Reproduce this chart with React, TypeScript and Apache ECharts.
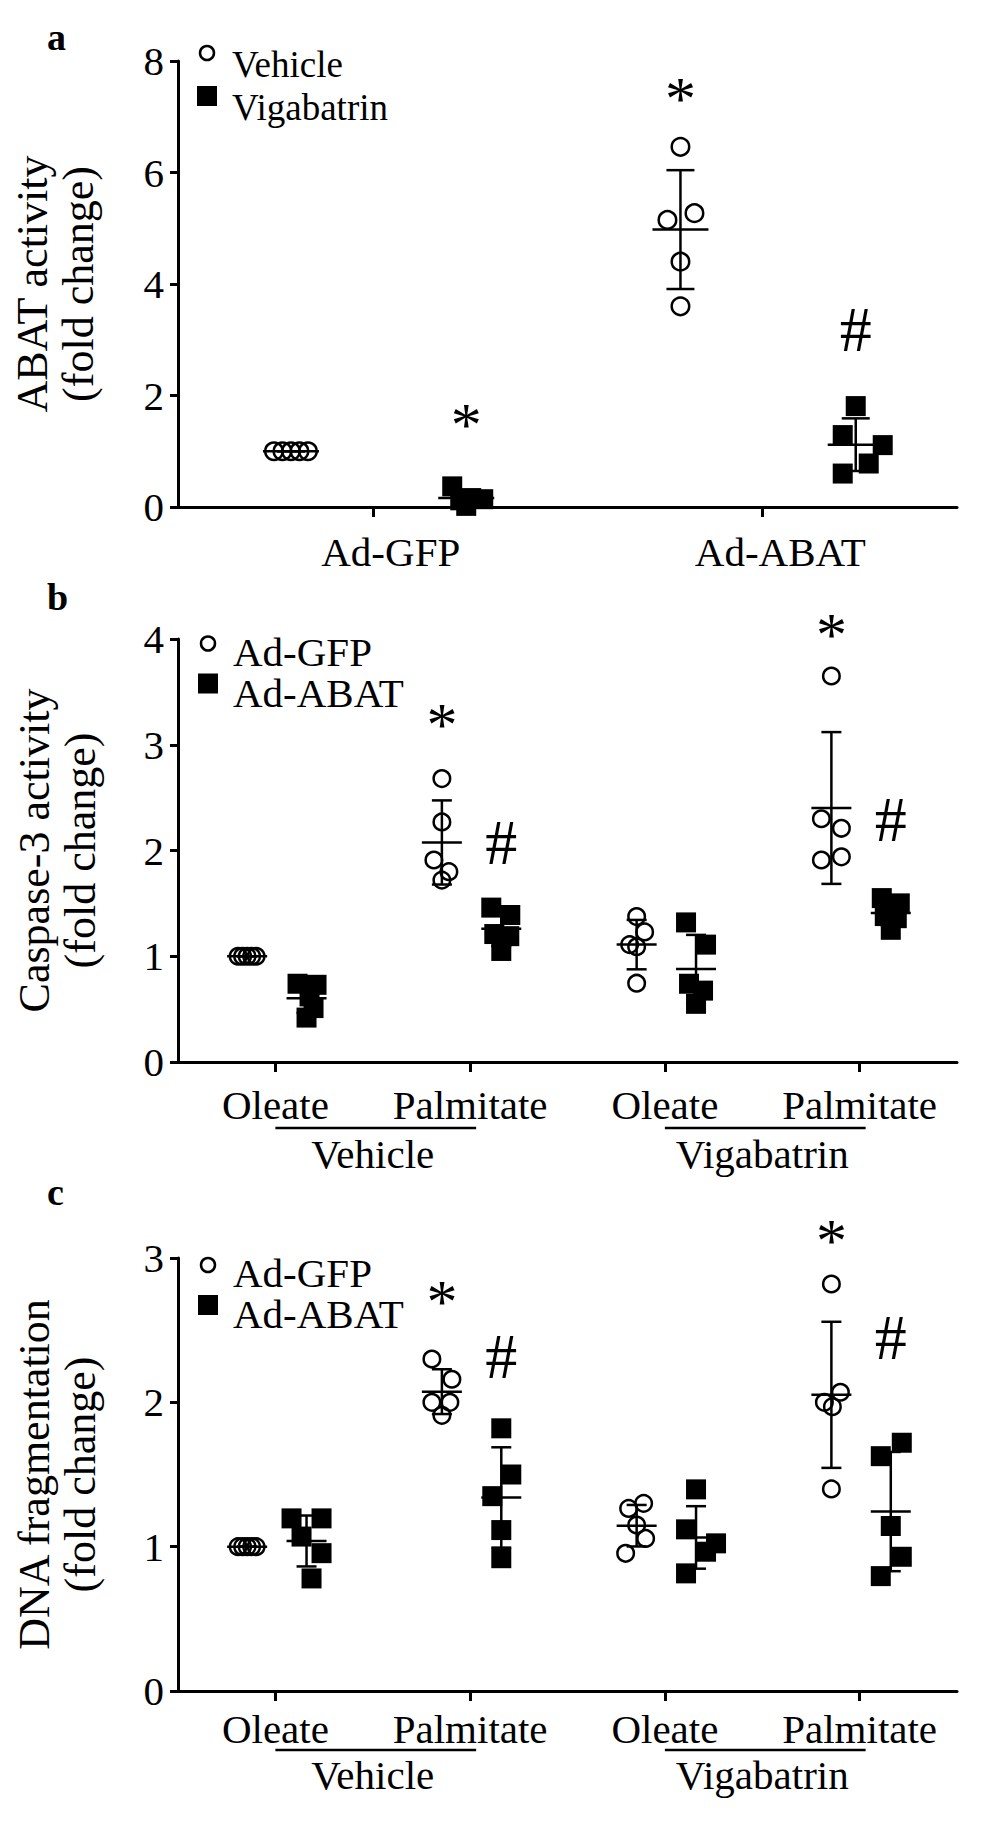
import React, { useEffect, useRef } from 'react';
import * as echarts from 'echarts';

const FONT = '"Liberation Serif", "Times New Roman", Times, serif';

// ---------------- Panel a : ABAT activity ----------------
const aCategories = ['Ad-GFP', 'Ad-ABAT'];
const aLegend = ['Vehicle', 'Vigabatrin'];
const aVehicle = [
  [1.0, 1.0, 1.0, 1.0, 1.0],
  [6.46, 5.27, 5.15, 4.4, 3.6],
];
const aVigabatrin = [
  [0.37, 0.16, 0.14, 0.12, 0.02],
  [1.81, 1.29, 1.11, 0.78, 0.6],
];
// [group index, set index (0 = circles, 1 = squares), y value, mark]
const aMarks: [number, number, number, string][] = [
  [0, 1, 1.71, '*'],
  [1, 0, 7.55, '*'],
  [1, 1, 3.18, '#'],
];

// ---------------- Panel b : Caspase-3 activity ----------------
const bCategories = ['Oleate', 'Palmitate', 'Oleate', 'Palmitate'];
const bTreatments = ['Vehicle', 'Vigabatrin'];
const bLegend = ['Ad-GFP', 'Ad-ABAT'];
const bAdGFP = [
  [1.0, 1.0, 1.0, 1.0, 1.0],
  [2.68, 2.27, 1.91, 1.8, 1.72],
  [1.375, 1.23, 1.11, 1.09, 0.745],
  [3.65, 2.3, 2.21, 1.94, 1.91],
];
const bAdABAT = [
  [0.74, 0.73, 0.62, 0.51, 0.42],
  [1.46, 1.39, 1.21, 1.19, 1.05],
  [1.32, 1.11, 0.74, 0.675, 0.55],
  [1.55, 1.5, 1.38, 1.36, 1.25],
];
const bMarks: [number, number, number, string][] = [
  [1, 0, 3.31, '*'],
  [1, 1, 2.08, '#'],
  [3, 0, 4.16, '*'],
  [3, 1, 2.29, '#'],
];

// ---------------- Panel c : DNA fragmentation ----------------
const cCategories = ['Oleate', 'Palmitate', 'Oleate', 'Palmitate'];
const cTreatments = ['Vehicle', 'Vigabatrin'];
const cLegend = ['Ad-GFP', 'Ad-ABAT'];
const cAdGFP = [
  [1.0, 1.0, 1.0, 1.0, 1.0],
  [2.3, 2.16, 2.0, 2.0, 1.91],
  [1.3, 1.265, 1.15, 1.057, 0.954],
  [2.82, 2.07, 2.0, 1.97, 1.4],
];
const cAdABAT = [
  [1.196, 1.196, 1.07, 0.955, 0.78],
  [1.82, 1.5, 1.35, 1.115, 0.92],
  [1.397, 1.12, 1.023, 0.965, 0.815],
  [1.72, 1.627, 1.143, 0.93, 0.796],
];
const cMarks: [number, number, number, string][] = [
  [1, 0, 2.79, '*'],
  [1, 1, 2.315, '#'],
  [3, 0, 3.21, '*'],
  [3, 1, 2.45, '#'],
];

// ---------------- presentation (horizontal jitter in px) ----------------
const aJitter = [
  [[-17, -8.5, 0, 8.5, 17], [0, 14, -13, 0, 0]],
  [[-14, 5, 17, -6, 0], [0, -13, 27, 13, -13]],
];
const bJitter = [
  [[-9, -4.5, 0, 4.5, 9], [0, 0, -8, 7, 0], [0, 8, -7, 0, 0], [0, -10, 10, 10, -10]],
  [[-9, 10, 3, 7, 0], [-10, 9, -7, 8, 0], [-10, 10, -7, 7, 0], [-9, 9, -6, 6, 0]],
];
const cJitter = [
  [[-9, -4.5, 0, 4.5, 9], [-10, 10, -10, 8, 0], [7, -8, 0, 9, -11], [0, 9, -7, 1, 0]],
  [[-15, 15, -5, 15, 5], [0, 10, -9, 0, 0], [0, -10, 20, 10, -10], [11, -10, 0, 11, -10]],
];

function stats(vals: number[]): [number, number] {
  const n = vals.length;
  const mean = vals.reduce((s, v) => s + v, 0) / n;
  const sd = Math.sqrt(vals.reduce((s, v) => s + (v - mean) * (v - mean), 0) / (n - 1));
  return [mean, sd];
}

type PanelCfg = {
  idx: number;
  ticks: number[];
  offsets: [number, number];
  sets: number[][][];
  jitter: number[][][];
  marks: [number, number, number, string][];
  circleSize: number;
  meanHalf: number;
  capHalf: number;
  names: string[];
};

function panelSeries(p: PanelCfg): any[] {
  const out: any[] = [];
  const black = '#000';
  p.sets.forEach((set, s) => {
    const data: any[] = [];
    set.forEach((vals, g) => {
      vals.forEach((v, i) => {
        data.push({ value: [p.ticks[g] + p.offsets[s], v], symbolOffset: [p.jitter[s][g][i], 0] });
      });
    });
    out.push({
      type: 'scatter',
      name: p.names[s],
      xAxisIndex: p.idx,
      yAxisIndex: p.idx,
      symbol: s === 0 ? 'circle' : 'rect',
      symbolSize: s === 0 ? p.circleSize : 20,
      itemStyle:
        s === 0
          ? { color: 'rgba(0,0,0,0)', borderColor: black, borderWidth: 2.5, opacity: 1 }
          : { color: black, borderWidth: 0, opacity: 1 },
      data,
      z: 2,
      silent: true,
    });
  });
  // mean +/- SD
  const barData: number[][] = [];
  p.sets.forEach((set, s) => {
    set.forEach((vals, g) => {
      const [m, sd] = stats(vals);
      barData.push([p.ticks[g] + p.offsets[s], m, sd]);
    });
  });
  out.push({
    type: 'custom',
    xAxisIndex: p.idx,
    yAxisIndex: p.idx,
    clip: false,
    z: 3,
    silent: true,
    encode: { x: 0, y: 1 },
    data: barData,
    renderItem: (_params: any, api: any) => {
      const x = api.value(0);
      const m = api.value(1);
      const sd = api.value(2);
      const pm = api.coord([x, m]);
      const pt = api.coord([x, m + sd]);
      const pb = api.coord([x, m - sd]);
      const style = { stroke: black, lineWidth: 2.5 };
      return {
        type: 'group',
        children: [
          { type: 'line', shape: { x1: pm[0] - p.meanHalf, y1: pm[1], x2: pm[0] + p.meanHalf, y2: pm[1] }, style },
          { type: 'line', shape: { x1: pt[0], y1: pt[1], x2: pb[0], y2: pb[1] }, style },
          { type: 'line', shape: { x1: pt[0] - p.capHalf, y1: pt[1], x2: pt[0] + p.capHalf, y2: pt[1] }, style },
          { type: 'line', shape: { x1: pb[0] - p.capHalf, y1: pb[1], x2: pb[0] + p.capHalf, y2: pb[1] }, style },
        ],
      };
    },
  });
  // significance marks
  out.push({
    type: 'custom',
    xAxisIndex: p.idx,
    yAxisIndex: p.idx,
    clip: false,
    z: 4,
    silent: true,
    encode: { x: 0, y: 1 },
    data: p.marks.map((mk) => [p.ticks[mk[0]] + p.offsets[mk[1]], mk[2], mk[3] === '*' ? 0 : 1]),
    renderItem: (_params: any, api: any) => {
      const pt = api.coord([api.value(0), api.value(1)]);
      const isStar = api.value(2) === 0;
      const fs = isStar ? 62 : 64;
      return {
        type: 'text',
        x: pt[0],
        y: pt[1] + (isStar ? fs * 0.2 : 0),
        style: {
          text: isStar ? '*' : '#',
          fill: black,
          fontSize: fs,
          fontFamily: FONT,
          align: 'center',
          verticalAlign: 'middle',
        },
      };
    },
  });
  return out;
}

function underlineSeries(idx: number, spans: number[][], dy: number): any {
  return {
    type: 'custom',
    xAxisIndex: idx,
    yAxisIndex: idx,
    clip: false,
    silent: true,
    encode: { x: [0, 1] },
    data: spans,
    renderItem: (_params: any, api: any) => {
      const p1 = api.coord([api.value(0), 0]);
      const p2 = api.coord([api.value(1), 0]);
      return {
        type: 'line',
        shape: { x1: p1[0], y1: p1[1] + dy, x2: p2[0] + 6, y2: p2[1] + dy },
        style: { stroke: '#000', lineWidth: 2.5 },
      };
    },
  };
}

const axisLineStyle = { color: '#000', width: 3 };

function yAxisCfg(idx: number, max: number, interval: number, name: string, nameGap: number) {
  return {
    gridIndex: idx,
    type: 'value',
    min: 0,
    max,
    interval,
    axisLine: { show: true, lineStyle: axisLineStyle },
    axisTick: { show: true, length: 8, lineStyle: { color: '#000', width: 3 } },
    axisLabel: { color: '#000', fontSize: 41, fontFamily: FONT, margin: 14 },
    splitLine: { show: false },
    name,
    nameLocation: 'middle',
    nameRotate: 90,
    nameGap,
    nameTextStyle: { color: '#000', fontSize: 44, fontFamily: FONT, lineHeight: 46 },
  };
}

function xAxisCfg(idx: number, max: number, ticks: number[], labels: string[], margin: number, padding?: number[]) {
  return {
    gridIndex: idx,
    type: 'value',
    min: 0,
    max,
    position: 'bottom',
    axisLine: { show: true, onZero: false, lineStyle: axisLineStyle },
    axisTick: { show: true, customValues: ticks, length: 10, lineStyle: { color: '#000', width: 3 } },
    axisLabel: {
      customValues: ticks,
      formatter: (v: number) => labels[ticks.indexOf(v)] ?? '',
      color: '#000',
      fontSize: 41,
      fontFamily: FONT,
      margin,
      padding: padding ?? 0,
    },
    splitLine: { show: false },
  };
}

function groupAxisCfg(idx: number, max: number, centers: number[], labels: string[], margin: number) {
  return {
    gridIndex: idx,
    type: 'value',
    min: 0,
    max,
    position: 'bottom',
    axisLine: { show: false },
    axisTick: { show: false },
    axisLabel: {
      customValues: centers,
      formatter: (v: number) => labels[centers.indexOf(v)] ?? '',
      color: '#000',
      fontSize: 41,
      fontFamily: FONT,
      margin,
    },
    splitLine: { show: false },
  };
}

function legendGraphics(
  cx: number, circleY: number, squareY: number, textY1: number, textY2: number, fontSize: number, names: string[],
) {
  const ts = { fill: '#000', fontSize, fontFamily: FONT, verticalAlign: 'middle', align: 'left' };
  return [
    { type: 'circle', shape: { cx, cy: circleY, r: 7 }, style: { fill: 'none', stroke: '#000', lineWidth: 2.5 } },
    { type: 'rect', shape: { x: cx - 10, y: squareY - 10, width: 20, height: 20 }, style: { fill: '#000' } },
    { type: 'text', x: cx + 25, y: textY1, style: { ...ts, text: names[0] } },
    { type: 'text', x: cx + 25, y: textY2, style: { ...ts, text: names[1] } },
  ];
}

function panelLetter(text: string, y: number) {
  return {
    type: 'text',
    x: 47,
    y,
    style: { text, fill: '#000', fontSize: 38, fontWeight: 'bold', fontFamily: FONT, verticalAlign: 'middle', align: 'left' },
  };
}

export default function App() {
  const ref = useRef<HTMLDivElement>(null);

  useEffect(() => {
    if (!ref.current) return;
    const chart = echarts.init(ref.current, undefined, { renderer: 'svg' });

    const aTicks = [1, 3];
    const bTicks = [1, 3, 5, 7];

    const series = [
      ...panelSeries({
        idx: 0, ticks: aTicks, offsets: [-0.42, 0.48], sets: [aVehicle, aVigabatrin], jitter: aJitter,
        marks: aMarks, circleSize: 17.5, meanHalf: 28, capHalf: 14, names: aLegend,
      }),
      ...panelSeries({
        idx: 1, ticks: bTicks, offsets: [-0.29, 0.32], sets: [bAdGFP, bAdABAT], jitter: bJitter,
        marks: bMarks, circleSize: 16.5, meanHalf: 20, capHalf: 10, names: bLegend,
      }),
      ...panelSeries({
        idx: 2, ticks: bTicks, offsets: [-0.29, 0.32], sets: [cAdGFP, cAdABAT], jitter: cJitter,
        marks: cMarks, circleSize: 16.5, meanHalf: 20, capHalf: 10, names: cLegend,
      }),
      underlineSeries(1, [[1, 3], [5, 7]], 66),
      underlineSeries(2, [[1, 3], [5, 7]], 59),
    ];

    chart.setOption({
      animation: false,
      backgroundColor: '#fff',
      grid: [
        { left: 178, right: 27, top: 61, height: 446 },
        { left: 178, right: 27, top: 639, height: 423 },
        { left: 178, right: 27, top: 1258, height: 433 },
      ],
      xAxis: [
        xAxisCfg(0, 4, aTicks, aCategories, 24, [0, 0, 0, 36]),
        xAxisCfg(1, 8, bTicks, bCategories, 22),
        xAxisCfg(2, 8, bTicks, cCategories, 17),
        groupAxisCfg(1, 8, [2, 6], bTreatments, 71),
        groupAxisCfg(2, 8, [2, 6], cTreatments, 63),
      ],
      yAxis: [
        yAxisCfg(0, 8, 2, 'ABAT activity\n(fold change)', 77),
        yAxisCfg(1, 4, 1, 'Caspase-3 activity\n(fold change)', 75),
        yAxisCfg(2, 3, 1, 'DNA fragmentation\n(fold change)', 75),
      ],
      graphic: [
        panelLetter('a', 37),
        panelLetter('b', 597),
        panelLetter('c', 1192),
        ...legendGraphics(207, 53, 96, 64, 107, 37, aLegend),
        ...legendGraphics(208, 643.5, 683.5, 651.5, 693, 41, bLegend),
        ...legendGraphics(208, 1265, 1305, 1272.5, 1314, 41, cLegend),
      ],
      series,
    });

    return () => {
      chart.dispose();
    };
  }, []);

  return (
    <div
      ref={ref}
      style={{ position: 'absolute', left: 0, top: 0, width: 984, height: 1826, background: '#fff' }}
    />
  );
}
